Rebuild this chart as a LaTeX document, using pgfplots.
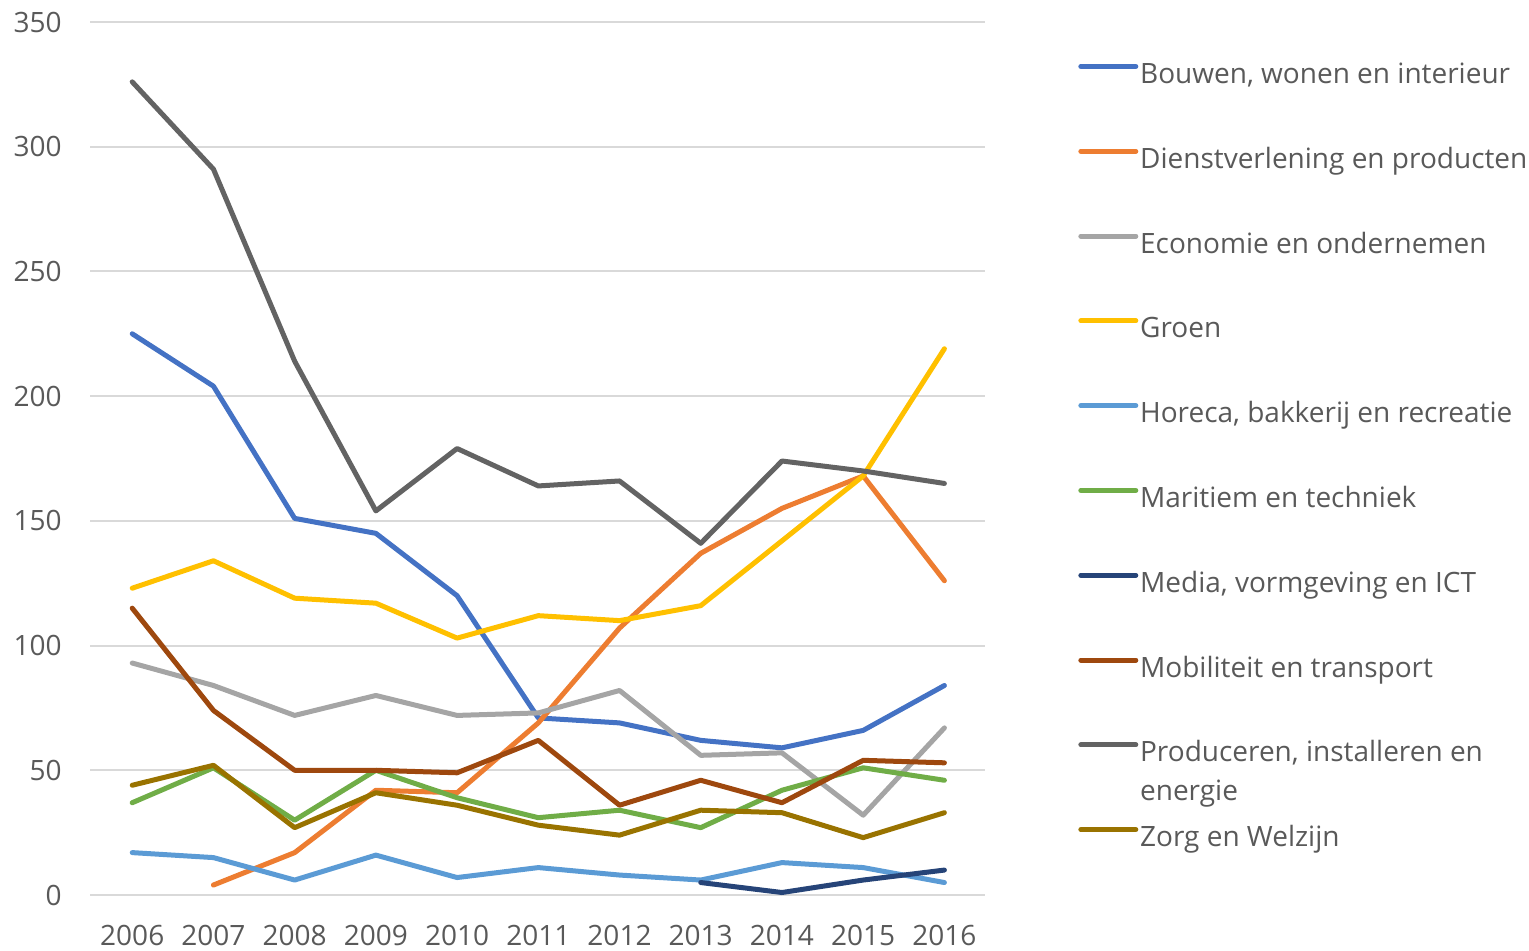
\documentclass[border=0pt]{standalone}
\usepackage{pgfplots}
\pgfplotsset{compat=1.18}
\usepackage{fontspec}
\setmainfont{Open Sans}
\definecolor{cBouw}{HTML}{4472C4}
\definecolor{cDienst}{HTML}{ED7D31}
\definecolor{cEco}{HTML}{A5A5A5}
\definecolor{cGroen}{HTML}{FFC000}
\definecolor{cHoreca}{HTML}{5B9BD5}
\definecolor{cMarit}{HTML}{70AD47}
\definecolor{cMedia}{HTML}{264478}
\definecolor{cMobil}{HTML}{9E480E}
\definecolor{cProd}{HTML}{636363}
\definecolor{cZorg}{HTML}{997300}
\definecolor{txt}{HTML}{595959}
\definecolor{gridc}{HTML}{D9D9D9}
\begin{document}
\begin{tikzpicture}
\path[use as bounding box] (-45pt,-27.5pt) rectangle (719.5pt,447.5pt);
\begin{axis}[
  at={(0pt,0pt)}, anchor=south west,
  scale only axis, width=447.5pt, height=436.5pt,
  xmin=2005.48, xmax=2016.5, ymin=0, ymax=350,
  xtick={2006,2007,...,2016}, ytick={0,50,...,350},
  /pgf/number format/.cd, 1000 sep={}, assume math mode=true, /pgfplots/.cd,
  axis line style={draw=none},
  major tick length=0pt,
  ymajorgrids, grid style={draw=gridc, line width=1pt},
  tick label style={font=\fontsize{14}{17}\selectfont, text=txt},
  yticklabel style={inner sep=0pt, xshift=-14pt},
  xticklabel style={inner sep=0pt, yshift=-15pt},
  no markers,
  every axis plot/.append style={line width=2.5pt, line join=round, line cap=round},
  legend image code/.code={\draw[#1] (0pt,5pt) -- (27.5pt,5pt);},
  legend cell align=left,
  legend style={at={(1.1038,0.953)}, anchor=north west, draw=none, fill=none,
    font=\fontsize{14}{19.5}\selectfont, text=txt,
    row sep=29.4pt, column sep=0pt, inner sep=0pt,
    nodes={inner xsep=0.9pt, inner ysep=0pt, text height=10pt, text depth=3pt}},
]
\addplot[cBouw] coordinates {(2006,225)(2007,204)(2008,151)(2009,145)(2010,120)(2011,71)(2012,69)(2013,62)(2014,59)(2015,66)(2016,84)};
\addlegendentry{Bouwen, wonen en interieur}
\addplot[cDienst] coordinates {(2007,4)(2008,17)(2009,42)(2010,41)(2011,69)(2012,107)(2013,137)(2014,155)(2015,168)(2016,126)};
\addlegendentry{Dienstverlening en producten}
\addplot[cEco] coordinates {(2006,93)(2007,84)(2008,72)(2009,80)(2010,72)(2011,73)(2012,82)(2013,56)(2014,57)(2015,32)(2016,67)};
\addlegendentry{Economie en ondernemen}
\addplot[cGroen] coordinates {(2006,123)(2007,134)(2008,119)(2009,117)(2010,103)(2011,112)(2012,110)(2013,116)(2014,142)(2015,168)(2016,219)};
\addlegendentry{Groen}
\addplot[cHoreca] coordinates {(2006,17)(2007,15)(2008,6)(2009,16)(2010,7)(2011,11)(2012,8)(2013,6)(2014,13)(2015,11)(2016,5)};
\addlegendentry{Horeca, bakkerij en recreatie}
\addplot[cMarit] coordinates {(2006,37)(2007,51)(2008,30)(2009,50)(2010,39)(2011,31)(2012,34)(2013,27)(2014,42)(2015,51)(2016,46)};
\addlegendentry{Maritiem en techniek}
\addplot[cMedia] coordinates {(2013,5)(2014,1)(2015,6)(2016,10)};
\addlegendentry{Media, vormgeving en ICT}
\addplot[cMobil] coordinates {(2006,115)(2007,74)(2008,50)(2009,50)(2010,49)(2011,62)(2012,36)(2013,46)(2014,37)(2015,54)(2016,53)};
\addlegendentry{Mobiliteit en transport}
\addplot[cProd] coordinates {(2006,326)(2007,291)(2008,214)(2009,154)(2010,179)(2011,164)(2012,166)(2013,141)(2014,174)(2015,170)(2016,165)};
\addlegendentry{\smash{\parbox[t]{220pt}{\raggedright Produceren, installeren en\\energie}}}
\addplot[cZorg] coordinates {(2006,44)(2007,52)(2008,27)(2009,41)(2010,36)(2011,28)(2012,24)(2013,34)(2014,33)(2015,23)(2016,33)};
\addlegendentry{Zorg en Welzijn}
\end{axis}
\end{tikzpicture}
\end{document}
